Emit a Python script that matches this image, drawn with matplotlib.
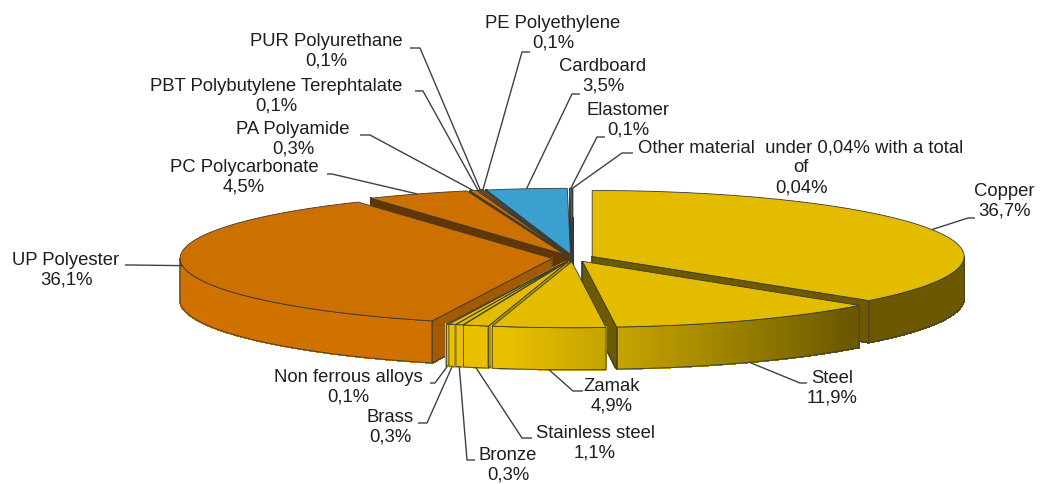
import numpy as np
import matplotlib
matplotlib.use("Agg")
import matplotlib.pyplot as plt
from matplotlib.patches import Polygon
from matplotlib.colors import to_rgb

# ---------------- data ----------------
materials = ["Copper", "Steel", "Zamak", "Stainless steel", "Bronze", "Brass",
             "Non ferrous alloys", "UP Polyester", "PC Polycarbonate", "PA Polyamide",
             "PBT Polybutylene Terephtalate", "PUR Polyurethane", "PE Polyethylene",
             "Cardboard", "Elastomer",
             "Other material  under 0,04% with a total\nof"]
shares = [36.7, 11.9, 4.9, 1.1, 0.3, 0.3, 0.1, 36.1, 4.5, 0.3, 0.1, 0.1, 0.1,
          3.5, 0.1, 0.04]

# ---------------- styles ----------------
YEL = "#E3BC00"
ORA = "#CC7000"
BLU = "#3BA0CF"
colors = [YEL, YEL, YEL, YEL, YEL, YEL, YEL, ORA, ORA, ORA, ORA, ORA, ORA,
          BLU, "#2F7FAF", "#27608A"]

# ---------------- layout (pixels) ----------------
W, H = 1040, 484
CX, CY = 573, 258
RX, RY = 372, 66
DEPTH = 42
EXPLODE = 21
label_xy = [(1004, 201), (832, 388), (612, 396), (595, 443), (508, 465), (390, 427),
            (348, 387), (66, 270), (244, 177), (293, 139), (276, 96), (326, 51),
            (553, 33), (603, 76), (628, 120), (801, 168)]
elbow_xy = [(968, 218), (800, 383), (573, 391), (522, 438), (467, 460), (427, 423),
            (435, 383), (132, 265), (332, 174), (370, 135), (423, 91), (420, 48),
            (522, 52), (572, 94), (597, 137), (622, 153)]
end_xy = [(975, 218), (807, 383), (583, 391), (532, 438), (475, 460), (418, 423),
          (430, 383), (125, 265), (327, 174), (360, 135), (415, 91), (410, 48),
          (530, 52), (580, 94), (605, 137), (633, 153)]

fig = plt.figure(figsize=(W / 100, H / 100), dpi=100)
ax = fig.add_axes([0, 0, 1, 1])
ax.set_xlim(0, W)
ax.set_ylim(H, 0)
ax.axis("off")

EDGE = "#3a3a3a"


def pt(cx, cy, th, z=0.0):
    r = np.radians(th)
    return (cx + RX * np.cos(r), cy - RY * np.sin(r) + z)


def shade_col(base, s):
    c = np.array(to_rgb(base)) * s
    return tuple(np.clip(c, 0, 1))


def wall_shade(t):
    return 0.47 + 0.55 * np.clip((-45 - t) / 55.0, 0, 1)


tot = sum(shares)
cum = np.concatenate([[0], np.cumsum(shares)]) / tot

walls = []
tops = []
anchors = []
for i, v in enumerate(shares):
    a0 = 90 - 360 * cum[i]
    a1 = 90 - 360 * cum[i + 1]
    mid = 0.5 * (a0 + a1)
    rm = np.radians(mid)
    cxi = CX + EXPLODE * np.cos(rm)
    cyi = CY - EXPLODE * (RY / RX) * np.sin(rm)
    base = colors[i]

    n = max(2, int(abs(a0 - a1)) + 2)
    arc = np.linspace(a0, a1, n)
    top = [(cxi, cyi)] + [pt(cxi, cyi, t) for t in arc]
    tops.append((top, base))

    hi = min(a0, 0.0)
    lo = max(a1, -180.0)
    if hi > lo:
        m = max(2, int(hi - lo) + 2)
        ts = np.linspace(hi, lo, m)
        strips = []
        for j in range(m - 1):
            t0, t1 = ts[j], ts[j + 1]
            quad = [pt(cxi, cyi, t0), pt(cxi, cyi, t1),
                    pt(cxi, cyi, t1, DEPTH), pt(cxi, cyi, t0, DEPTH)]
            strips.append((quad, shade_col(base, wall_shade(0.5 * (t0 + t1)))))
        outline = ([pt(cxi, cyi, t) for t in ts] +
                   [pt(cxi, cyi, t, DEPTH) for t in ts[::-1]])
        key = max(pt(cxi, cyi, t)[1] for t in ts)
        walls.append((key, strips, outline))

    for ang, vis, nx in ((a0, np.cos(np.radians(a0)) < -1e-9, -np.sin(np.radians(a0))),
                         (a1, np.cos(np.radians(a1)) > 1e-9, np.sin(np.radians(a1)))):
        if vis:
            po = pt(cxi, cyi, ang)
            poly = [(cxi, cyi), po, (po[0], po[1] + DEPTH), (cxi, cyi + DEPTH)]
            s = 0.48 if nx < 0 else 0.8
            walls.append((max(cyi, po[1]), [(poly, shade_col(base, s))], poly))

    sy = np.sin(rm)
    anchors.append(pt(cxi, cyi, mid, DEPTH if sy < -0.3 else 0.0))

walls.sort(key=lambda w: w[0])
z = 1
for key, strips, outline in walls:
    for poly, c in strips:
        ax.add_patch(Polygon(poly, closed=True, facecolor=c, edgecolor=c,
                             lw=0.8, antialiased=False, zorder=z))
    ax.add_patch(Polygon(outline, closed=True, facecolor="none", edgecolor=EDGE,
                         lw=0.6, zorder=z + 0.5))
    z += 1

for poly, c in tops:
    ax.add_patch(Polygon(poly, closed=True, facecolor=c, edgecolor=EDGE,
                         lw=0.6, zorder=z))
    z += 0.01

z += 1
for i, name in enumerate(materials):
    pct = f"{shares[i]:g}".replace(".", ",") + "%"
    ax.plot([anchors[i][0], elbow_xy[i][0], end_xy[i][0]],
            [anchors[i][1], elbow_xy[i][1], end_xy[i][1]],
            color="#404040", lw=1.0, zorder=z, solid_capstyle="butt")
    ax.text(label_xy[i][0], label_xy[i][1], name + "\n" + pct,
            ha="center", va="center", multialignment="center",
            fontsize=13.3, family="Liberation Sans", color="#1e1e1e",
            linespacing=1.22, zorder=z + 1)

fig.savefig("out.png", dpi=100)
